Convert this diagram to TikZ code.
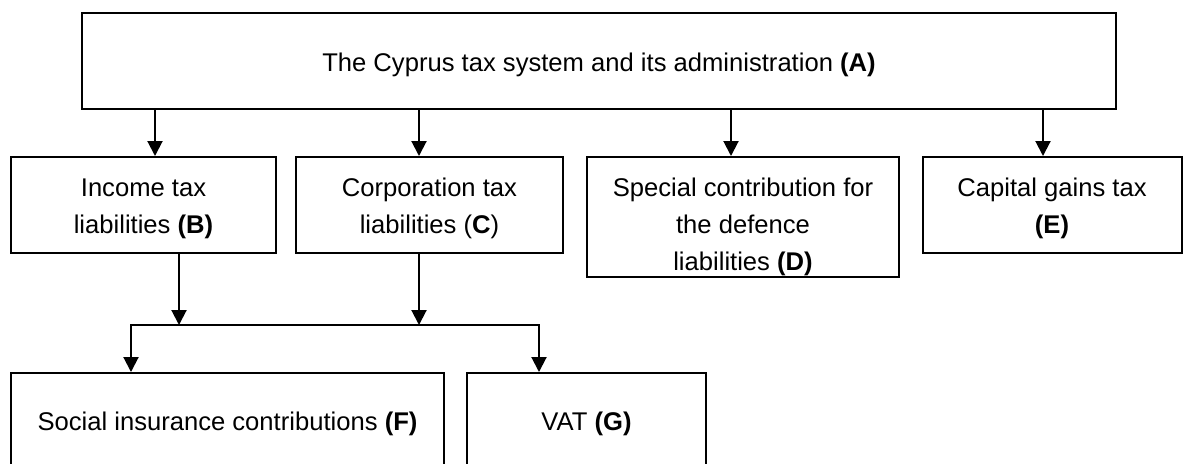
\documentclass[tikz,border=0pt]{standalone}
\usepackage{fontspec}
\setmainfont{Liberation Sans}
\usetikzlibrary{arrows.meta}

\begin{document}
\begin{tikzpicture}[x=0.5pt,y=-0.5pt,
        caja/.style={draw=black,line width=1pt,inner sep=0pt,align=center,
          font=\fontsize{12.8}{18.5}\selectfont},
        flecha/.style={line width=1pt,-{Triangle[length=7.5pt,width=7.5pt]}}]
      \clip (0,0) rectangle (1183,463);
      \node [caja,minimum width=517pt,minimum height=48pt]   (A) at (599,61) {\rule{0pt}{13pt}The Cyprus tax system and its administration \textbf{(A)}};
      \node [caja,minimum width=132.5pt,minimum height=48pt] (B) at (143.5,205) {\rule{0pt}{13pt}Income tax\\liabilities \textbf{(B)}};
      \node [caja,minimum width=133.5pt,minimum height=48pt] (C) at (429.5,205) {\rule{0pt}{13pt}Corporation tax\\liabilities (\textbf{C})};
      \node [caja,minimum width=156pt,minimum height=60pt]   (D) at (743,217) {\rule{0pt}{19.5pt}Special contribution for\\the defence\\liabilities \textbf{(D)}};
      \node [caja,minimum width=129.5pt,minimum height=48pt] (E) at (1052,205) {\rule{0pt}{13pt}Capital gains tax\\\textbf{(E)}};
      \node [caja,minimum width=216.5pt,minimum height=48pt] (F) at (227.5,421) {\rule{0pt}{12pt}Social insurance contributions \textbf{(F)}};
      \node [caja,minimum width=119.5pt,minimum height=48pt] (G) at (586.5,421) {\rule{0pt}{12pt}VAT \textbf{(G)}};
      % x positions of the arrows and the joining line
      \coordinate (xb) at (155,0);
      \coordinate (xc) at (419,0);
      \coordinate (xd) at (731,0);
      \coordinate (xe) at (1043,0);
      \coordinate (xb2) at (179,0);
      \coordinate (xf) at (131,0);
      \coordinate (xg) at (539,0);
      \coordinate (bus) at (0,325);
      \draw[flecha] (A.south -| xb) -- (B.north -| xb);
      \draw[flecha] (A.south -| xc) -- (C.north -| xc);
      \draw[flecha] (A.south -| xd) -- (D.north -| xd);
      \draw[flecha] (A.south -| xe) -- (E.north -| xe);
      \draw[flecha] (B.south -| xb2) -- (bus -| xb2);
      \draw[flecha] (C.south -| xc) -- (bus -| xc);
      \draw[flecha] (bus -| xg) -- (bus -| xf) -- (F.north -| xf);
      \draw[flecha] (bus -| xf) -- (bus -| xg) -- (G.north -| xg);
    \end{tikzpicture}
\end{document}
